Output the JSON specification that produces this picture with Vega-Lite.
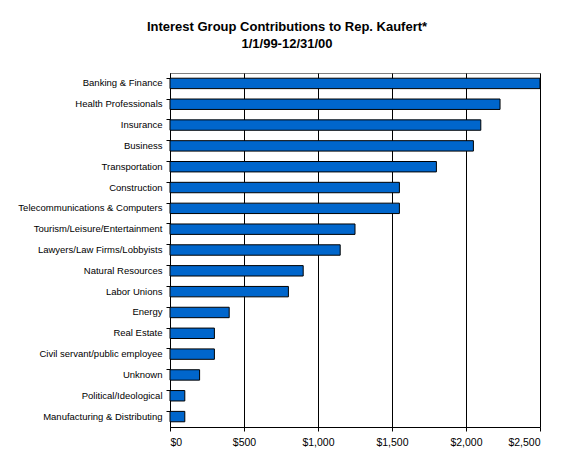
{
  "$schema": "https://vega.github.io/schema/vega-lite/v6.json",
  "width": 370,
  "height": 354,
  "autosize": {"type": "none"},
  "padding": {"left": 170, "top": 73, "right": 35, "bottom": 42},
  "background": "white",
  "title": {
    "text": ["Interest Group Contributions to Rep. Kaufert*", "1/1/99-12/31/00"],
    "font": "Liberation Sans",
    "fontSize": 13,
    "fontWeight": "bold",
    "color": "black",
    "anchor": "middle",
    "dx": -68,
    "lineHeight": 17,
    "offset": 22
  },
  "data": {
    "values": [
      {"group": "Banking & Finance", "amount": 2500},
      {"group": "Health Professionals", "amount": 2230},
      {"group": "Insurance", "amount": 2100},
      {"group": "Business", "amount": 2050},
      {"group": "Transportation", "amount": 1800},
      {"group": "Construction", "amount": 1550},
      {"group": "Telecommunications & Computers", "amount": 1550},
      {"group": "Tourism/Leisure/Entertainment", "amount": 1250},
      {"group": "Lawyers/Law Firms/Lobbyists", "amount": 1150},
      {"group": "Natural Resources", "amount": 900},
      {"group": "Labor Unions", "amount": 800},
      {"group": "Energy", "amount": 400},
      {"group": "Real Estate", "amount": 300},
      {"group": "Civil servant/public employee", "amount": 300},
      {"group": "Unknown", "amount": 200},
      {"group": "Political/Ideological", "amount": 100},
      {"group": "Manufacturing & Distributing", "amount": 100}
    ]
  },
  "mark": {"type": "bar", "color": "#0066CC", "stroke": "black", "strokeWidth": 1},
  "encoding": {
    "y": {
      "field": "group",
      "type": "nominal",
      "sort": null,
      "scale": {"paddingInner": 0.5, "paddingOuter": 0.25},
      "axis": {
        "title": null,
        "bandPosition": 0,
        "domainColor": "black",
        "tickColor": "black",
        "tickSize": 4,
        "labelPadding": 4,
        "labelFont": "Liberation Sans",
        "labelFontSize": 9.5,
        "labelColor": "black",
        "grid": false
      }
    },
    "x": {
      "field": "amount",
      "type": "quantitative",
      "scale": {"domain": [0, 2500], "nice": false},
      "axis": {
        "title": null,
        "values": [0, 500, 1000, 1500, 2000, 2500],
        "format": "$,.0f",
        "domainColor": "black",
        "tickColor": "black",
        "tickSize": 4,
        "labelPadding": 6,
        "labelFont": "Liberation Sans",
        "labelFontSize": 10.5,
        "labelColor": "black",
        "grid": true,
        "gridColor": "black",
        "gridOpacity": 1,
        "gridWidth": 1
      }
    }
  },
  "config": {
    "view": {"stroke": "#808080", "strokeWidth": 1}
  }
}
